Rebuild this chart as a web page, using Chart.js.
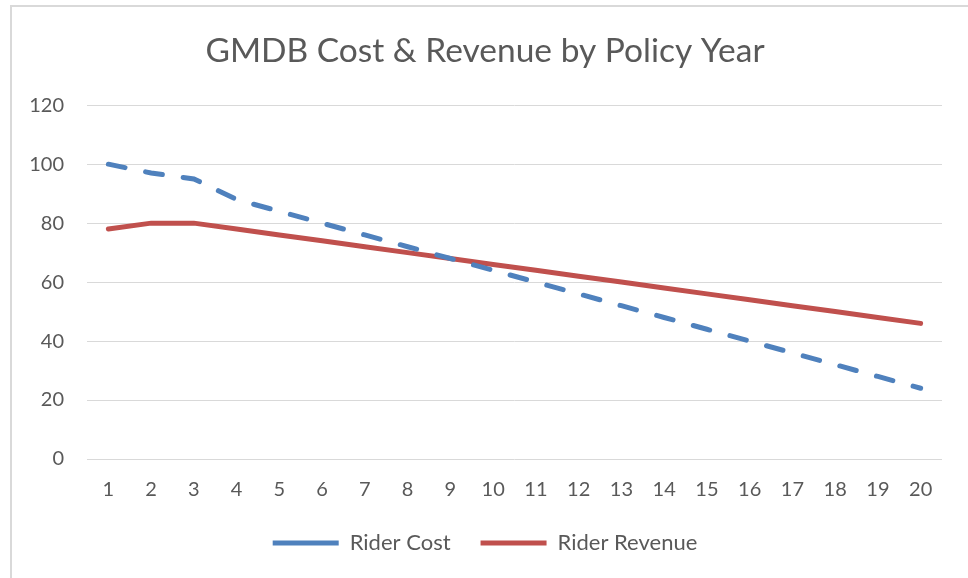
<!DOCTYPE html>
<html>
<head>
<meta charset="utf-8">
<script src="https://cdn.jsdelivr.net/npm/chart.js@4.4.1/dist/chart.umd.min.js"></script>
<style>
  html, body { margin: 0; padding: 0; background: #fff; overflow: hidden; }
  #wrap {
    position: absolute; left: 10px; top: 5px;
    width: 958px; height: 573px;
    border-left: 2px solid #d9d9d9; border-top: 2px solid #d9d9d9;
    box-sizing: border-box;
  }
</style>
</head>
<body>
<div id="wrap"><canvas id="chart"></canvas></div>
<script>
const years = ['1','2','3','4','5','6','7','8','9','10','11','12','13','14','15','16','17','18','19','20'];
const riderCost = [100, 97, 95, 88, 84, 80, 76, 72, 68, 64, 60, 56, 52, 48, 44, 40, 36, 32, 28, 24];
const riderRevenue = [78, 80, 80, 78, 76, 74, 72, 70, 68, 66, 64, 62, 60, 58, 56, 54, 52, 50, 48, 46];
const yTicks = [0, 20, 40, 60, 80, 100, 120];

const textColor = '#595959';
const fontFamily = 'Lato, "Open Sans", sans-serif';

new Chart(document.getElementById('chart'), {
  type: 'line',
  data: {
    labels: years,
    datasets: [{
      label: 'Rider Cost',
      data: riderCost,
      borderColor: '#4f81bd',
      backgroundColor: '#4f81bd',
      borderWidth: 5,
      borderDash: [17, 21],
      borderCapStyle: 'round',
      pointRadius: 0,
      tension: 0
    }, {
      label: 'Rider Revenue',
      data: riderRevenue,
      borderColor: '#c0504d',
      backgroundColor: '#c0504d',
      borderWidth: 5,
      borderCapStyle: 'round',
      pointRadius: 0,
      tension: 0
    }]
  },
  options: {
    responsive: true,
    maintainAspectRatio: false,
    animation: false,
    layout: { padding: { left: 16, right: 26, top: 0, bottom: 14 } },
    plugins: {
      title: {
        display: true,
        text: 'GMDB Cost & Revenue by Policy Year',
        color: textColor,
        font: { family: fontFamily, size: 33.5, weight: 'normal' },
        padding: { top: 24, bottom: 34 }
      },
      legend: {
        position: 'bottom',
        labels: {
          usePointStyle: true,
          pointStyle: 'line',
          pointStyleWidth: 66,
          color: textColor,
          font: { family: fontFamily, size: 22 },
          padding: 30
        }
      },
      tooltip: { enabled: false }
    },
    scales: {
      x: {
        offset: true,
        grid: { display: false, tickLength: 19 },
        border: { display: false },
        ticks: { color: textColor, font: { family: fontFamily, size: 20 }, padding: 0, maxRotation: 0 }
      },
      y: {
        min: 0,
        max: 120,
        afterBuildTicks: axis => { axis.ticks = yTicks.map(v => ({ value: v })); },
        afterFit: axis => { axis.width = 59; },
        grid: { color: '#d9d9d9', lineWidth: 1, drawTicks: false },
        border: { display: false },
        ticks: { color: textColor, font: { family: fontFamily, size: 20 }, padding: 23 }
      }
    }
  }
});
</script>
</body>
</html>
